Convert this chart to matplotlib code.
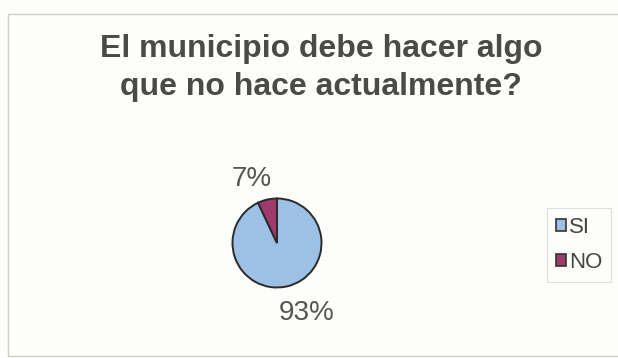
import matplotlib.pyplot as plt
from matplotlib.patches import Rectangle

plt.rcParams['font.family'] = ['Liberation Sans', 'DejaVu Sans']

labels = ['SI', 'NO']
shares = [93, 7]
colors = ['#9dc1e6', '#9e3b6c']
title_lines = ['El municipio debe hacer algo', 'que no hace actualmente?']

W, H = 618, 358
fig = plt.figure(figsize=(W / 100, H / 100), dpi=100)
fig.patch.set_facecolor('#fdfdf9')


def fx(px):
    return px / W


def fy(py):
    return 1 - py / H


# chart frame (right side runs off the edge)
fig.patches.append(Rectangle((fx(8), fy(356)), fx(640 - 8), (356 - 14) / H,
                             transform=fig.transFigure, fill=False,
                             edgecolor='#cfcfc6', linewidth=1.0))

for line, base in zip(title_lines, [57, 95]):
    fig.text(fx(321), fy(base), line, ha='center', va='baseline',
             fontsize=23, fontweight='bold', color='#4a4a46')

r = 44.5 * 1.25
ax = fig.add_axes([fx(277 - r), fy(243 + r), 2 * r / W, 2 * r / H])
wedges, _ = ax.pie(shares, colors=colors, startangle=90, counterclock=False,
                   wedgeprops=dict(edgecolor='#2a2a2a', linewidth=1.4))

fig.text(fx(251.5), fy(186), '%d%%' % shares[1], ha='center', va='baseline',
         fontsize=20, color='#555553')
fig.text(fx(306.5), fy(320), '%d%%' % shares[0], ha='center', va='baseline',
         fontsize=20, color='#555553')

leg = fig.legend(wedges, labels, loc='upper left',
                 bbox_to_anchor=(fx(547), fy(208)), fontsize=16,
                 frameon=True, fancybox=False, handlelength=0.45,
                 handleheight=0.45, handletextpad=0.15, labelspacing=0.65,
                 borderpad=0.4, borderaxespad=0)
leg.get_frame().set_edgecolor('#d8d8d0')
leg.get_frame().set_facecolor('#fdfdf9')
leg.get_frame().set_linewidth(0.8)
for t in leg.get_texts():
    t.set_color('#444444')
for h in leg.legend_handles:
    h.set_edgecolor('#333333')
    h.set_linewidth(1.2)

fig.savefig('out.png', dpi=100, facecolor=fig.get_facecolor())
